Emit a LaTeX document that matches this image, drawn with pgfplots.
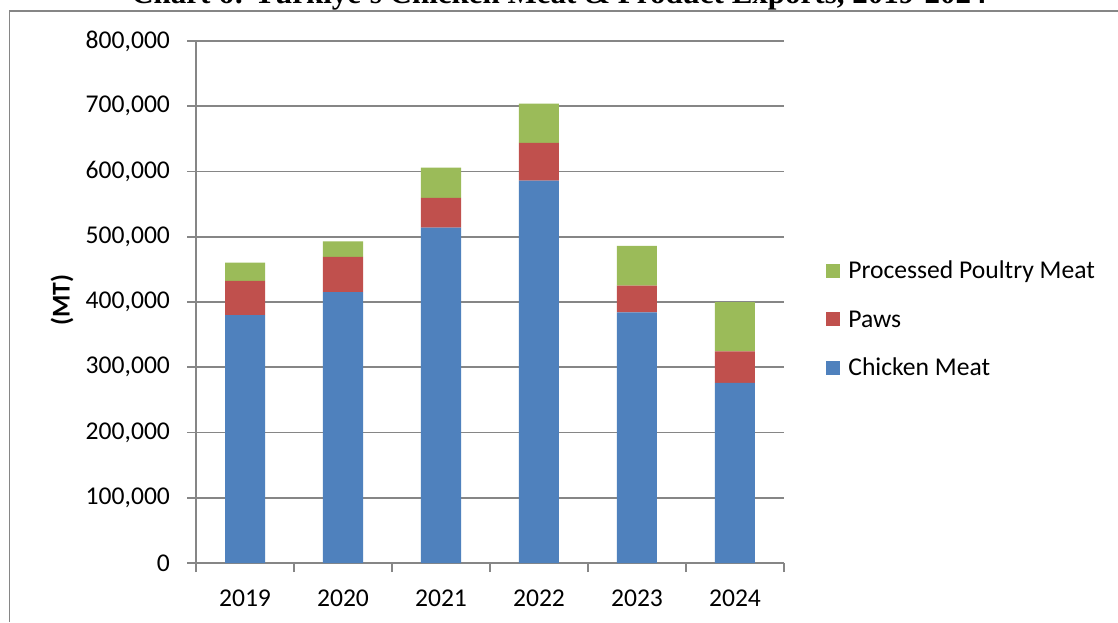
\documentclass[border=0pt]{standalone}
\usepackage{fontspec}
\setmainfont{Carlito}
\newfontfamily\titlefont{Liberation Serif}
\usepackage{pgfplots}
\pgfplotsset{compat=1.18}
\definecolor{cmeat}{HTML}{4F81BD}
\definecolor{cpaws}{HTML}{C0504D}
\definecolor{cproc}{HTML}{9BBB59}
\definecolor{gridgray}{HTML}{868686}
\begin{document}
\begin{tikzpicture}[x=1pt,y=1pt]
  \useasboundingbox (0,0) rectangle (559,311);
  \clip (0,0) rectangle (559,311);
  \fill[white] (0,0) rectangle (559,311);
  \begin{axis}[
      at={(98pt,29.5pt)}, anchor=south west,
      scale only axis, width=294pt, height=261pt,
      ybar stacked, bar width=20pt,
      xmin=-0.5, xmax=5.5, ymin=0, ymax=800000,
      axis lines=left, axis line style={gridgray, line width=0.9pt, -},
      tick align=outside, major tick length=4.5pt,
      tick style={gridgray, line width=0.9pt},
      xtick={-0.5,0.5,1.5,2.5,3.5,4.5,5.5},
      xticklabels={{},{},{},{},{},{},{}},
      extra x ticks={0,1,2,3,4,5},
      extra x tick labels={2019,2020,2021,2022,2023,2024},
      extra x tick style={major tick length=0pt, grid=none},
      scaled y ticks=false,
      ytick={0,100000,200000,300000,400000,500000,600000,700000,800000},
      yticklabels={0,{100,000},{200,000},{300,000},{400,000},{500,000},{600,000},{700,000},{800,000}},
      ymajorgrids, grid style={gridgray, line width=0.9pt},
      tick label style={font=\fontsize{12.8}{15}\selectfont},
      yticklabel style={xshift=-5pt},
      xticklabel style={anchor=north, inner sep=0pt, yshift=-13pt},
      ylabel={(MT)},
      ylabel style={at={(axis description cs:-0.228,0.504)}, anchor=center, font=\fontsize{12.8}{15}\selectfont\bfseries},
      legend image code/.code={\fill[#1,draw=none] (0pt,-2.5pt) rectangle (7pt,4.5pt);},
      reverse legend,
      legend cell align=left,
      legend style={at={(axis description cs:1.0714,0.4636)}, anchor=west,
        draw=none, fill=none, inner sep=0pt, row sep=12.25pt,
        font=\fontsize{12.8}{15}\selectfont,
        nodes={inner sep=0pt, text height=9pt, text depth=3pt},
        /tikz/every odd column/.append style={column sep=4pt}},
    ]
    \addplot[fill=cmeat, draw=none] coordinates {(0,380000) (1,415000) (2,514000) (3,586000) (4,384000) (5,276000)};
    \addlegendentry{Chicken Meat}
    \addplot[fill=cpaws, draw=none] coordinates {(0,52500) (1,54000) (2,45500) (3,58000) (4,41000) (5,48500)};
    \addlegendentry{Paws}
    \addplot[fill=cproc, draw=none] coordinates {(0,28000) (1,24000) (2,46500) (3,60000) (4,61000) (5,75500)};
    \addlegendentry{Processed Poultry Meat}
  \end{axis}
  \draw[gridgray, line width=0.9pt] (4.75,0) -- (4.75,305.5) -- (560,305.5);
  \node[anchor=base, inner sep=0pt, font=\titlefont\bfseries\fontsize{15.5}{18}\selectfont] at (279.5,309) {Chart 6: Türkiye's Chicken Meat \& Product Exports, 2019-2024};
\end{tikzpicture}
\end{document}
